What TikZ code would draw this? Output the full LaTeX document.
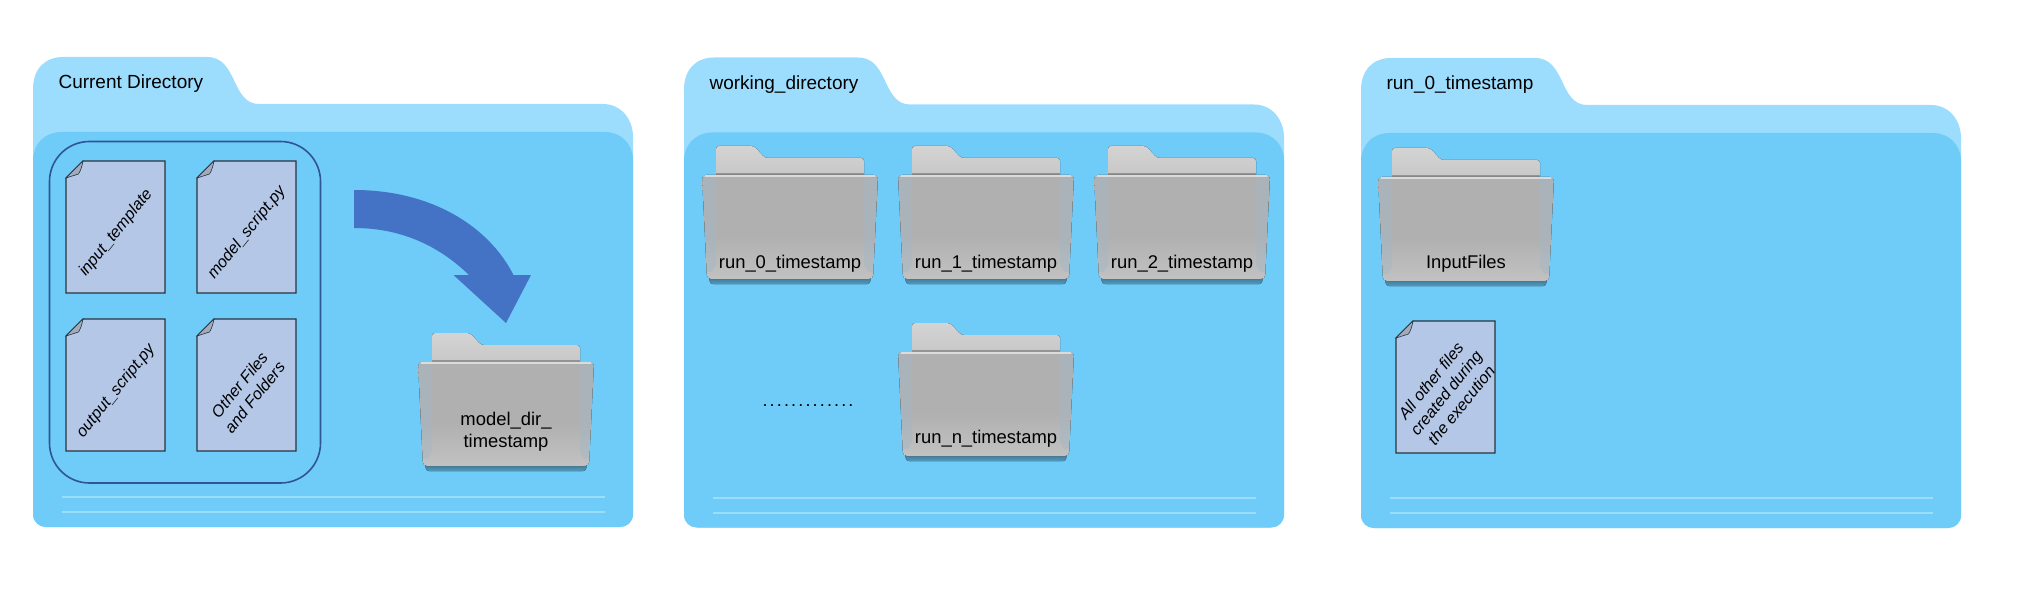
\documentclass[tikz,border=0pt]{standalone}
\usepackage{fontspec}
\setmainfont{Liberation Sans}
\usepackage{tikz}

\definecolor{foldertab}{HTML}{9CDDFE}
\definecolor{folderfront}{HTML}{6FCBF8}
\definecolor{filefill}{HTML}{B4C7E7}
\definecolor{filefold}{HTML}{A3ABBB}
\definecolor{fileedge}{HTML}{27343F}
\definecolor{groupedge}{HTML}{2F5597}
\definecolor{arrowblue}{HTML}{4472C4}
\definecolor{foldershadow}{HTML}{2F5F7A}
\definecolor{folderstripe}{HTML}{A3B7C4}

\pgfdeclareverticalshading{frontshade}{100bp}{
  color(0bp)=(black!24); color(25bp)=(black!24); color(28bp)=(black!25); color(46bp)=(black!31); color(100bp)=(black!31)}

\begin{document}
\begin{tikzpicture}[x=1pt,y=-1pt]

\tikzset{title/.style={anchor=base west,font=\fontsize{19}{22}\selectfont},
folderlabel/.style={align=center,font=\fontsize{18.4}{22}\selectfont},
filelabel/.style={rotate=51,align=center,font=\fontsize{16.2}{19.5}\selectfont\itshape},
stripe/.style={folderstripe,fill opacity=0.45},
rule/.style={foldertab,line width=2pt}}

\newcommand{\bigfolder}[4]{
\begin{scope}[shift={(#2,#3)}]
\fill [foldertab] (0,32) .. controls (0,12) and (12,0) .. (30,0) -- (174,0) .. controls (205,0) and (198,47) .. (226,47) -- (570,47) .. controls (588,47) and (600,62) .. (600,80) -- (600,457) .. controls (600,465) and (594,470) .. (587,470) -- (13,470) .. controls (6,470) and (0,465) .. (0,457) -- cycle;
\fill [folderfront] (0,103) .. controls (0,87) and (12,75) .. (28,75) -- (572,75) .. controls (588,75) and (600,87) .. (600,103) -- (600,457) .. controls (600,465) and (594,470) .. (587,470) -- (13,470) .. controls (6,470) and (0,465) .. (0,457) -- cycle;
\draw [rule] (29,440) -- (572,440);
\draw [rule] (29,455) -- (572,455);
\node [title] (#1) at (22,32) {#4};
\end{scope}
}

\newcommand{\grayfolder}[5]{
\begin{scope}[shift={(#2,#3)}]
% back part with the tab
\fill [top color=black!17,bottom color=black!22,rounded corners=3pt] (14,2) -- (14,-29) -- (52,-29) -- (63,-17) -- (162,-17) -- (162,2) -- cycle;
\fill [black!42] (14,-2) rectangle (162,1);
% shadow, then the front
\fill [top color=foldershadow,bottom color=foldershadow!45!folderfront,rounded corners=3pt] (7,98) -- (169,98) -- (168,109) -- (8,109) -- cycle;
\fill [shading=frontshade,rounded corners=4pt] (0,0) -- (176,0) -- (171,104) -- (5,104) -- cycle;
\fill [stripe] (1,3) -- (14,3) -- (14,90) -- (10,97) -- (5,97) -- cycle;
\fill [stripe] (175,3) -- (162,3) -- (162,90) -- (166,97) -- (171,97) -- cycle;
\draw [black!14,line width=1.5pt,line cap=round] (3,1.2) -- (173,1.2);
\node [folderlabel] (#1) at (88,#4) {#5};
\end{scope}
}

\newcommand{\docfile}[4]{
\begin{scope}[shift={(#2,#3)}]
\draw [fileedge,fill=filefill,line width=1.1pt] (17,0) -- (99,0) -- (99,132) -- (0,132) -- (0,17) -- cycle;
\draw [fileedge,fill=filefold,line width=0.6pt] (0,17) -- (17,0) .. controls (16,5) and (15,9) .. (12.5,13) -- cycle;
\node [filelabel] (#1) at (50,72) {#4};
\end{scope}
}

\useasboundingbox (0,0) rectangle (2018,596);

\bigfolder{currentdir}{33}{57}{Current Directory}
\bigfolder{workingdir}{684}{57.5}{working\_directory}
\bigfolder{rundir}{1361}{58}{run\_0\_timestamp}

% current directory
\draw [groupedge,line width=1.6pt,rounded corners=40pt] (49.5,141.5) rectangle (320.5,483);
\docfile{inputfile}{66}{161}{input\_template}
\docfile{modelfile}{197}{161}{model\_script.py}
\docfile{outputfile}{66}{319}{output\_script.py}
\docfile{otherfile}{197}{319}{Other Files\\and Folders}
\fill [arrowblue] (354,190) .. controls (430,190) and (488,225) .. (513.5,275) -- (531,275) -- (506,323) -- (453.5,275) -- (469,275) .. controls (438,245) and (400,228) .. (354,228) -- cycle;
\grayfolder{modeldir}{418}{362}{70}{model\_dir\_\\timestamp}

% working directory
\grayfolder{runzero}{702}{175}{89}{run\_0\_timestamp}
\grayfolder{runone}{898}{175}{89}{run\_1\_timestamp}
\grayfolder{runtwo}{1094}{175}{89}{run\_2\_timestamp}
\grayfolder{runn}{898}{352}{87}{run\_n\_timestamp}
\node [font=\fontsize{18}{22}\selectfont\addfontfeature{LetterSpace=12}] (rundots) at (808,406) {.............};

% run directory
\grayfolder{inputdir}{1378}{177}{87}{InputFiles}
\docfile{execfile}{1396}{321}{All other files\\created during\\the execution}

\end{tikzpicture}
\end{document}
